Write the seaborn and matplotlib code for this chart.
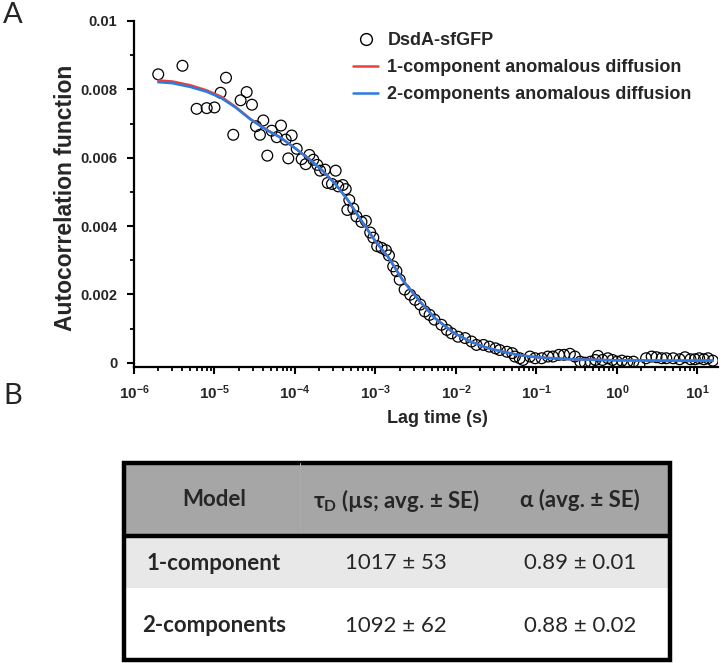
import matplotlib
matplotlib.use("Agg")
import matplotlib.pyplot as plt
import seaborn as sns
import pandas as pd
from matplotlib.patches import Rectangle
from matplotlib.lines import Line2D
from matplotlib.ticker import MultipleLocator, LogLocator, NullFormatter

# ---------------- data ----------------
lag_time = [2.0e-6, 4.0e-6, 6.0e-6, 8.0e-6, 1.0e-5, 1.19e-5, 1.39e-5, 1.71e-5, 2.11e-5, 2.51e-5,
            2.92e-5, 3.28e-5, 3.67e-5, 4.04e-5, 4.53e-5, 5.14e-5, 5.93e-5, 6.7e-5, 7.66e-5, 8.26e-5,
            9.1e-5, 1.05e-4, 1.21e-4, 1.36e-4, 1.51e-4, 1.69e-4, 1.89e-4, 2.05e-4, 2.36e-4, 2.55e-4,
            2.88e-4, 3.2e-4, 3.45e-4, 3.92e-4, 4.27e-4, 4.47e-4, 4.73e-4, 5.3e-4, 5.8e-4, 6.7e-4,
            7.6e-4, 8.6e-4, 9.4e-4, 1.05e-3, 1.19e-3, 1.35e-3, 1.47e-3, 1.66e-3, 1.82e-3, 2.0e-3,
            2.3e-3, 2.7e-3, 3.1e-3, 3.6e-3, 4.1e-3, 4.7e-3, 5.4e-3, 6.6e-3, 7.7e-3, 8.8e-3,
            1.06e-2, 1.3e-2, 1.56e-2, 1.8e-2, 2.2e-2, 2.6e-2, 3.1e-2, 3.5e-2, 4.3e-2, 5.0e-2,
            5.4e-2, 6.2e-2, 6.8e-2, 8.3e-2, 9.6e-2, 0.116, 0.139, 0.16, 0.19, 0.22,
            0.26, 0.30, 0.35, 0.40, 0.47, 0.54, 0.58, 0.66, 0.77, 0.88,
            1.0, 1.15, 1.35, 1.6, 1.9, 2.3, 2.7, 3.1, 3.6, 4.1,
            5.0, 6.0, 7.0, 8.2, 9.3, 10.5, 12.0, 13.5, 15.5]
autocorr = [0.00844, 0.00869, 0.00743, 0.00745, 0.00747, 0.00790, 0.00834, 0.00667, 0.00768, 0.00792,
            0.00755, 0.00692, 0.00667, 0.00709, 0.00606, 0.00679, 0.00660, 0.00694, 0.00653, 0.00598,
            0.00665, 0.00626, 0.00596, 0.00581, 0.00608, 0.00594, 0.00579, 0.00562, 0.00565, 0.00526,
            0.00523, 0.00562, 0.00516, 0.00520, 0.00508, 0.00447, 0.00476, 0.00451, 0.00428, 0.00412,
            0.00415, 0.00381, 0.00366, 0.00341, 0.00336, 0.00329, 0.00314, 0.00282, 0.00268, 0.00243,
            0.00214, 0.00199, 0.00184, 0.00170, 0.00150, 0.00140, 0.00126, 0.00111, 0.00096, 0.00086,
            0.00076, 0.00072, 0.00062, 0.00052, 0.00052, 0.00047, 0.00042, 0.00037, 0.00032, 0.00028,
            0.00018, 0.00013, 0.00008, 0.00018, 0.00013, 0.00013, 0.00018, 0.00018, 0.00023, 0.00023,
            0.00026, 0.00018, 0.00003, 0.00000, 0.00003, 0.00008, 0.00020, 0.00008, 0.00013, 0.00008,
            0.00003, 0.00006, 0.00003, 0.00003, -0.00007, 0.00013, 0.00018, 0.00016, 0.00013, 0.00013,
            0.00013, 0.00010, 0.00016, 0.00010, 0.00010, 0.00013, 0.00010, 0.00013, 0.00006]

fit_time = [2e-6, 3e-6, 5e-6, 8e-6, 1.2e-5, 1.8e-5, 2.8e-5, 4.5e-5, 6.5e-5, 1e-4,
            1.5e-4, 2.2e-4, 3.2e-4, 4.5e-4, 6.5e-4, 1e-3, 1.45e-3, 2.2e-3, 3.6e-3, 5.5e-3,
            9.3e-3, 1.5e-2, 2.4e-2, 4e-2, 6.2e-2, 0.1, 0.26, 1.0, 4.0, 15.5]
fit_one = [0.00826, 0.00823, 0.00812, 0.00797, 0.00779, 0.00750, 0.00713, 0.00681, 0.00660, 0.00628,
           0.00596, 0.00562, 0.00522, 0.00477, 0.00420, 0.00355, 0.00308, 0.00240, 0.00178, 0.00130,
           0.00088, 0.00062, 0.00044, 0.00031, 0.00022, 0.00016, 0.00010, 0.00007, 0.00006, 0.00006]
fit_two = [0.00821, 0.00818, 0.00807, 0.00793, 0.00775, 0.00748, 0.00712, 0.00680, 0.00660, 0.00628,
           0.00596, 0.00562, 0.00522, 0.00477, 0.00420, 0.00355, 0.00308, 0.00240, 0.00178, 0.00130,
           0.00088, 0.00062, 0.00044, 0.00031, 0.00022, 0.00016, 0.00010, 0.00007, 0.00006, 0.00006]

legend_labels = ["DsdA-sfGFP", "1-component anomalous diffusion", "2-components anomalous diffusion"]
y_ticks = [0, 0.002, 0.004, 0.006, 0.008, 0.01]
y_tick_labels = ["0", "0.002", "0.004", "0.006", "0.008", "0.01"]
x_ticks = [1e-6, 1e-5, 1e-4, 1e-3, 1e-2, 1e-1, 1e0, 1e1]
x_tick_labels = [r"$\mathbf{10^{-6}}$", r"$\mathbf{10^{-5}}$", r"$\mathbf{10^{-4}}$", r"$\mathbf{10^{-3}}$",
                 r"$\mathbf{10^{-2}}$", r"$\mathbf{10^{-1}}$", r"$\mathbf{10^{0}}$", r"$\mathbf{10^{1}}$"]

table_header = ["Model", r"τ$_\mathsf{D}$ (µs; avg. ± SE)", "α (avg. ± SE)"]
table_models = ["1-component", "2-components"]
table_tau = ["1017 ± 53", "1092 ± 62"]
table_alpha = ["0.89 ± 0.01", "0.88 ± 0.02"]

RED = "#e8413c"
BLUE = "#2b7be0"

# ---------------- style ----------------
sns.set_theme(style="ticks")
plt.rcParams["font.family"] = ["Liberation Sans", "DejaVu Sans"]
plt.rcParams["mathtext.fontset"] = "custom"
plt.rcParams["mathtext.rm"] = "Liberation Sans"
plt.rcParams["mathtext.bf"] = "Liberation Sans:bold"
plt.rcParams["mathtext.sf"] = "Lato:bold"

W, H = 724, 663
fig = plt.figure(figsize=(W / 100, H / 100), dpi=100)

ax = fig.add_axes([134 / W, 1 - 367 / H, (718 - 134) / W, (367 - 21) / H])

df = pd.DataFrame({"t": lag_time, "g": autocorr})
sns.scatterplot(data=df, x="t", y="g", ax=ax, s=60, facecolor="none",
                edgecolor="black", linewidth=0.9, zorder=2)
sns.lineplot(x=fit_time, y=fit_one, ax=ax, color=RED, lw=1.8, zorder=3)
sns.lineplot(x=fit_time, y=fit_two, ax=ax, color=BLUE, lw=1.8, zorder=4)

ax.set_xscale("log")
ax.set_xlim(1e-6, 18)
ax.set_ylim(-0.000126, 0.01)

ax.set_yticks(y_ticks)
ax.set_yticklabels(y_tick_labels, fontweight="bold", fontsize=10.5)
ax.yaxis.set_minor_locator(MultipleLocator(0.001))
ax.set_xticks(x_ticks)
ax.set_xticklabels(x_tick_labels, fontsize=11)
ax.xaxis.set_minor_locator(LogLocator(base=10, subs=range(2, 10), numticks=20))
ax.xaxis.set_minor_formatter(NullFormatter())

for s in ["top", "right"]:
    ax.spines[s].set_visible(False)
for s in ["left", "bottom"]:
    ax.spines[s].set_linewidth(1.6)
    ax.spines[s].set_color("black")
ax.tick_params(which="major", direction="out", length=5, width=1.5, color="black", pad=7)
ax.tick_params(which="minor", direction="out", length=3, width=1.3, color="black")

ax.set_xlabel("Lag time (s)", fontsize=13, fontweight="bold")
ax.xaxis.set_label_coords(0.52, -0.125)
ax.set_ylabel("Autocorrelation function", fontsize=16.5, fontweight="bold")
ax.yaxis.set_label_coords(-0.098, 0.49)

handles = [Line2D([], [], marker="o", ls="none", mfc="none", mec="black", ms=8.5, mew=1.0),
           Line2D([], [], color=RED, lw=1.8),
           Line2D([], [], color=BLUE, lw=1.8)]
leg = ax.legend(handles, legend_labels, loc="upper left",
                bbox_to_anchor=(353 / W, 1 - 32 / H), bbox_transform=fig.transFigure,
                frameon=False, borderpad=0, borderaxespad=0, handlelength=1.4,
                handletextpad=0.5, labelspacing=0.55,
                prop={"weight": "bold", "size": 13})

fig.text(3 / W, 1 - 2 / H, "A", fontsize=21, va="top", ha="left", family=["Lato", "DejaVu Sans"])
fig.text(3 / W, 1 - 383 / H, "B", fontsize=21, va="top", ha="left", family=["Lato", "DejaVu Sans"])

# ---------------- table ----------------
tab = fig.add_axes([0, 0, 1, (H - 440) / H])
tab.set_xlim(0, W)
tab.set_ylim(H, 440)
tab.axis("off")

left, right = 124, 670
top, hdr_bot, row1_bot, bottom = 463, 536, 588, 660
tab.add_patch(Rectangle((left, top), right - left, hdr_bot - top, color="#a6a6a6", lw=0))
tab.add_patch(Rectangle((left, hdr_bot), right - left, row1_bot - hdr_bot, color="#e8e8e8", lw=0))
tab.add_patch(Rectangle((left, row1_bot), right - left, bottom - row1_bot, color="white", lw=0))
tab.plot([300, 300], [top, hdr_bot], color="#acacac", lw=0.8)
tab.plot([left, right], [hdr_bot, hdr_bot], color="black", lw=3.2, solid_capstyle="butt")
tab.add_patch(Rectangle((left, top), right - left, bottom - top, fill=False, ec="black", lw=3.2))

col_x = [214, 396, 580]
tfam = ["Lato", "DejaVu Sans"]
for x, txt in zip(col_x, table_header):
    tab.text(x, 500, txt, ha="center", va="center", fontsize=16, fontweight="bold", family=tfam)
for y, m, tau, a in zip([563, 626], table_models, table_tau, table_alpha):
    tab.text(col_x[0], y, m, ha="center", va="center", fontsize=16, fontweight="bold", family=tfam)
    tab.text(col_x[1], y, tau, ha="center", va="center", fontsize=16, family=tfam)
    tab.text(col_x[2], y, a, ha="center", va="center", fontsize=16, family=tfam)

fig.savefig("out.png", dpi=100)
